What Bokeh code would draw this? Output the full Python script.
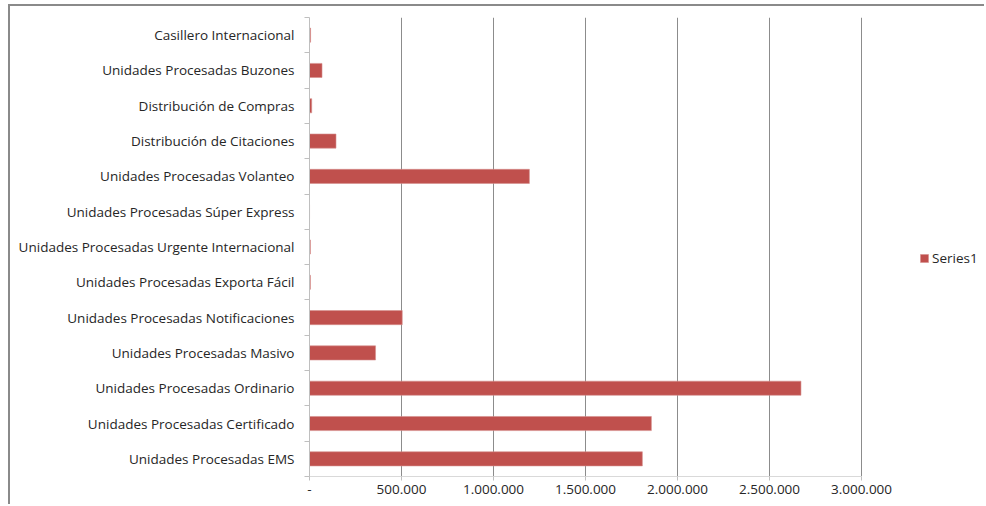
from bokeh.plotting import figure
from bokeh.models import FixedTicker, ColumnDataSource, Legend, LegendItem
from bokeh.embed import file_html
from bokeh.resources import INLINE

categories = [
    "Unidades Procesadas EMS",
    "Unidades Procesadas Certificado",
    "Unidades Procesadas Ordinario",
    "Unidades Procesadas Masivo",
    "Unidades Procesadas Notificaciones",
    "Unidades Procesadas Exporta Fácil",
    "Unidades Procesadas Urgente Internacional",
    "Unidades Procesadas Súper Express",
    "Unidades Procesadas Volanteo",
    "Distribución de Citaciones",
    "Distribución de Compras",
    "Unidades Procesadas Buzones",
    "Casillero Internacional",
]
values = [1809000, 1858000, 2671000, 359000, 504000, 5000, 5000, 300, 1195000, 144000, 12000, 68000, 6000]
series_name = "Series1"
x_ticks = [0, 500000, 1000000, 1500000, 2000000, 2500000, 3000000]
axis_max = 3000000

def fmt(v):
    return "-" if v == 0 else f"{v:,}".replace(",", ".")

ypos = [i + 0.5 for i in range(len(categories))]
src = ColumnDataSource(dict(y=ypos, v=values, cat=categories))

FONT = "Open Sans"
TXT = "#262626"
FS = "13.5px"

# layout geometry (pixels)
OFF_X, OFF_Y = 10, 6          # outer frame offset (margin + border)
W, H = 986 - OFF_X, 506 - OFF_Y
LEFT, TOP, BOTTOM = 309 - OFF_X, 17 - OFF_Y, 506 - 476
frame_w = W - LEFT
x_end = axis_max * frame_w / (861 - 309)

p = figure(width=W, height=H, output_backend="svg", toolbar_location=None,
           x_range=(0, x_end), y_range=(0, len(categories)),
           min_border_left=LEFT, min_border_right=0, min_border_top=TOP, min_border_bottom=BOTTOM)
p.styles = {"margin-left": "8px", "margin-top": "4px",
            "border-left": "2px solid #8a8a8a", "border-top": "2px solid #8a8a8a"}
p.outline_line_color = None
p.background_fill_color = "white"
p.border_fill_color = "white"

r = p.hbar(y="y", right="v", left=0, height=0.4, source=src,
           fill_color="#C0504D", line_color="#d58f8d", line_width=0.6)

# x axis
p.xaxis.ticker = FixedTicker(ticks=x_ticks)
p.xaxis.bounds = (0, axis_max)
p.xaxis.major_label_overrides = {t: fmt(t) for t in x_ticks}
p.xaxis.axis_line_color = "#d9d9d9"
p.xaxis.major_tick_line_color = "#bfbfbf"
p.xaxis.major_tick_out = 4
p.xaxis.major_tick_in = 0
p.xaxis.minor_tick_line_color = None
p.xaxis.major_label_text_font = FONT
p.xaxis.major_label_text_font_size = FS
p.xaxis.major_label_text_color = TXT
p.xaxis.major_label_standoff = 4

# y axis
p.yaxis.ticker = FixedTicker(ticks=ypos, minor_ticks=list(range(len(categories) + 1)))
p.yaxis.major_label_overrides = {y: c for y, c in zip(ypos, categories)}
p.yaxis.axis_line_color = "#bfbfbf"
p.yaxis.major_tick_line_color = None
p.yaxis.major_tick_out = 0
p.yaxis.major_tick_in = 0
p.yaxis.minor_tick_line_color = "#bfbfbf"
p.yaxis.minor_tick_out = 5
p.yaxis.minor_tick_in = 0
p.yaxis.major_label_text_font = FONT
p.yaxis.major_label_text_font_size = FS
p.yaxis.major_label_text_color = TXT
p.yaxis.major_label_standoff = 10

p.xgrid.ticker = FixedTicker(ticks=x_ticks[1:])
p.xgrid.grid_line_color = "#8c8c8c"
p.xgrid.grid_line_width = 1
p.ygrid.grid_line_color = None

legend = Legend(items=[LegendItem(label=series_name, renderers=[r])],
                location=(610, 209), orientation="vertical",
                glyph_width=10, glyph_height=10, label_standoff=3,
                padding=0, margin=0, border_line_color=None, background_fill_alpha=0,
                label_text_font=FONT, label_text_font_size=FS, label_text_color=TXT)
p.add_layout(legend)

open("out.html", "w").write(file_html(p, INLINE))
